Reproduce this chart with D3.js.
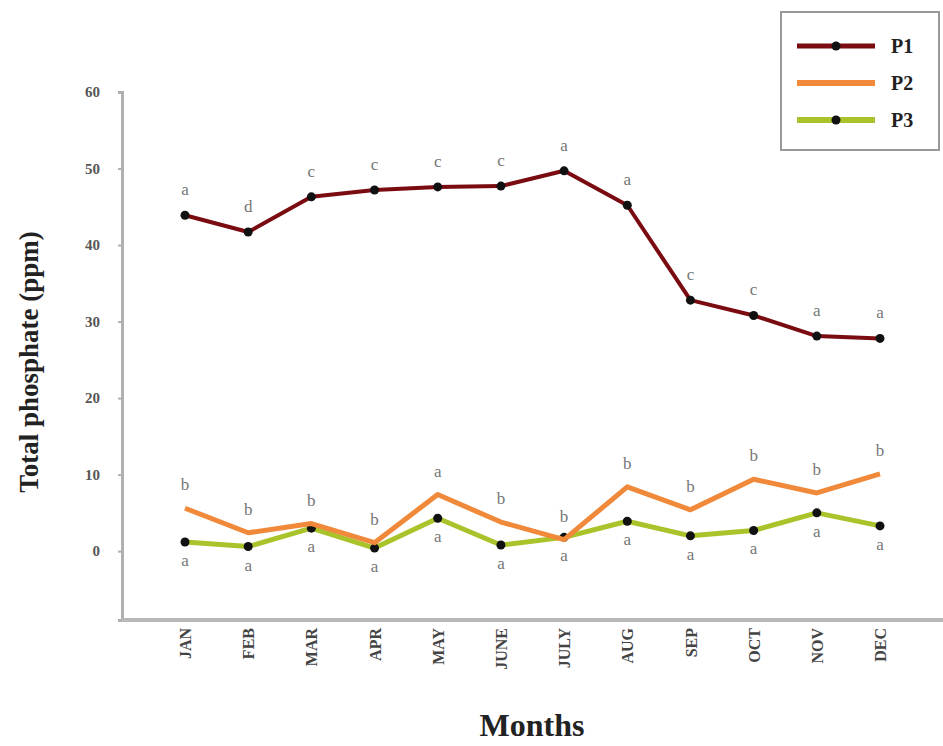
<!DOCTYPE html>
<html>
<head>
<meta charset="utf-8">
<script src="https://cdn.jsdelivr.net/npm/d3@7"></script>
<style>
  body { margin: 0; background: #fff; }
  svg { display: block; font-family: "Liberation Serif", "DejaVu Serif", serif; }
</style>
</head>
<body>
<div id="chart"></div>
<script>
const months = ["JAN", "FEB", "MAR", "APR", "MAY", "JUNE", "JULY", "AUG", "SEP", "OCT", "NOV", "DEC"];
const yTicks = [0, 10, 20, 30, 40, 50, 60];
const p1 = [43.9, 41.7, 46.3, 47.2, 47.6, 47.7, 49.7, 45.2, 32.8, 30.8, 28.1, 27.8];
const p2 = [5.6, 2.4, 3.6, 1.1, 7.4, 3.8, 1.5, 8.4, 5.4, 9.4, 7.6, 10.1];
const p3 = [1.2, 0.6, 3.0, 0.4, 4.3, 0.8, 1.8, 3.9, 2.0, 2.7, 5.0, 3.3];
const p1Letters = ["a", "d", "c", "c", "c", "c", "a", "a", "c", "c", "a", "a"];
const p2Letters = ["b", "b", "b", "b", "a", "b", "b", "b", "b", "b", "b", "b"];
const p3Letters = ["a", "a", "a", "a", "a", "a", "a", "a", "a", "a", "a", "a"];

const W = 943, H = 746;
const svg = d3.select("#chart").append("svg")
  .attr("width", W)
  .attr("height", H);

const x = d3.scalePoint().domain(months).range([185, 880]);
const y = d3.scaleLinear().domain([-9, 60]).range([620, 92]);

// axes
const yAxis = svg.append("g")
  .attr("transform", "translate(122,0)")
  .call(d3.axisLeft(y).tickValues(yTicks).tickSize(4).tickFormat(d3.format("d")));
yAxis.attr("font-family", "inherit");
yAxis.select(".domain").attr("stroke", "#b0b0b0").attr("stroke-width", 3);
yAxis.selectAll(".tick line").attr("stroke", "#b0b0b0").attr("stroke-width", 2);
yAxis.selectAll(".tick text")
  .attr("x", -22)
  .attr("font-size", 15)
  .attr("font-weight", "bold")
  .attr("fill", "#555");

const xAxis = svg.append("g")
  .attr("transform", "translate(0,620)")
  .call(d3.axisBottom(x).tickSize(0).tickSizeOuter(0));
xAxis.attr("font-family", "inherit");
xAxis.select(".domain").attr("d", "M122,0H943").attr("stroke", "#b8b8b8").attr("stroke-width", 4);
xAxis.selectAll(".tick text")
  .attr("transform", "rotate(-90)")
  .attr("text-anchor", "end")
  .attr("x", -8)
  .attr("y", 0)
  .attr("dy", "0.35em")
  .attr("font-size", 16)
  .attr("font-weight", "bold")
  .attr("fill", "#444");

// titles
svg.append("text")
  .attr("transform", "translate(38,362) rotate(-90)")
  .attr("text-anchor", "middle")
  .attr("font-size", 27)
  .attr("font-weight", "bold")
  .attr("fill", "#222")
  .text("Total phosphate (ppm)");

svg.append("text")
  .attr("x", 532)
  .attr("y", 736)
  .attr("text-anchor", "middle")
  .attr("font-size", 32)
  .attr("font-weight", "bold")
  .attr("fill", "#222")
  .text("Months");

const series = [
  { name: "P1", values: p1, color: "#7a0b10", width: 4, marker: true, letters: p1Letters, dy: -20 },
  { name: "P2", values: p2, color: "#f0893a", width: 5, marker: false, letters: p2Letters, dy: -18 },
  { name: "P3", values: p3, color: "#a9c42a", width: 5, marker: true, letters: p3Letters, dy: 24 }
];

const line = d3.line()
  .x((d, i) => x(months[i]))
  .y(d => y(d));

// draw bottom series first
[...series].reverse().forEach(s => {
  svg.append("path")
    .datum(s.values)
    .attr("fill", "none")
    .attr("stroke", s.color)
    .attr("stroke-width", s.width)
    .attr("stroke-linejoin", "round")
    .attr("d", line);
  if (s.marker) {
    svg.selectAll(null)
      .data(s.values)
      .enter()
      .append("circle")
      .attr("cx", (d, i) => x(months[i]))
      .attr("cy", d => y(d))
      .attr("r", 4.5)
      .attr("fill", "#111");
  }
});

// significance letters
series.forEach(s => {
  svg.selectAll(null)
    .data(s.values)
    .enter()
    .append("text")
    .attr("x", (d, i) => x(months[i]))
    .attr("y", d => y(d) + s.dy)
    .attr("text-anchor", "middle")
    .attr("font-size", 17)
    .attr("fill", "#777")
    .text((d, i) => s.letters[i]);
});

// legend
const lg = svg.append("g").attr("transform", "translate(781,12)");
lg.append("rect")
  .attr("width", 158)
  .attr("height", 138)
  .attr("fill", "#fff")
  .attr("stroke", "#999")
  .attr("stroke-width", 2);
series.forEach((s, i) => {
  const ly = 34 + i * 37;
  lg.append("line")
    .attr("x1", 16).attr("x2", 94)
    .attr("y1", ly).attr("y2", ly)
    .attr("stroke", s.color)
    .attr("stroke-width", s.width + 1);
  if (s.marker) {
    lg.append("circle").attr("cx", 55).attr("cy", ly).attr("r", 4.5).attr("fill", "#111");
  }
  lg.append("text")
    .attr("x", 110)
    .attr("y", ly)
    .attr("dy", "0.35em")
    .attr("font-size", 20)
    .attr("font-weight", "bold")
    .attr("fill", "#222")
    .text(s.name);
});
</script>
</body>
</html>
